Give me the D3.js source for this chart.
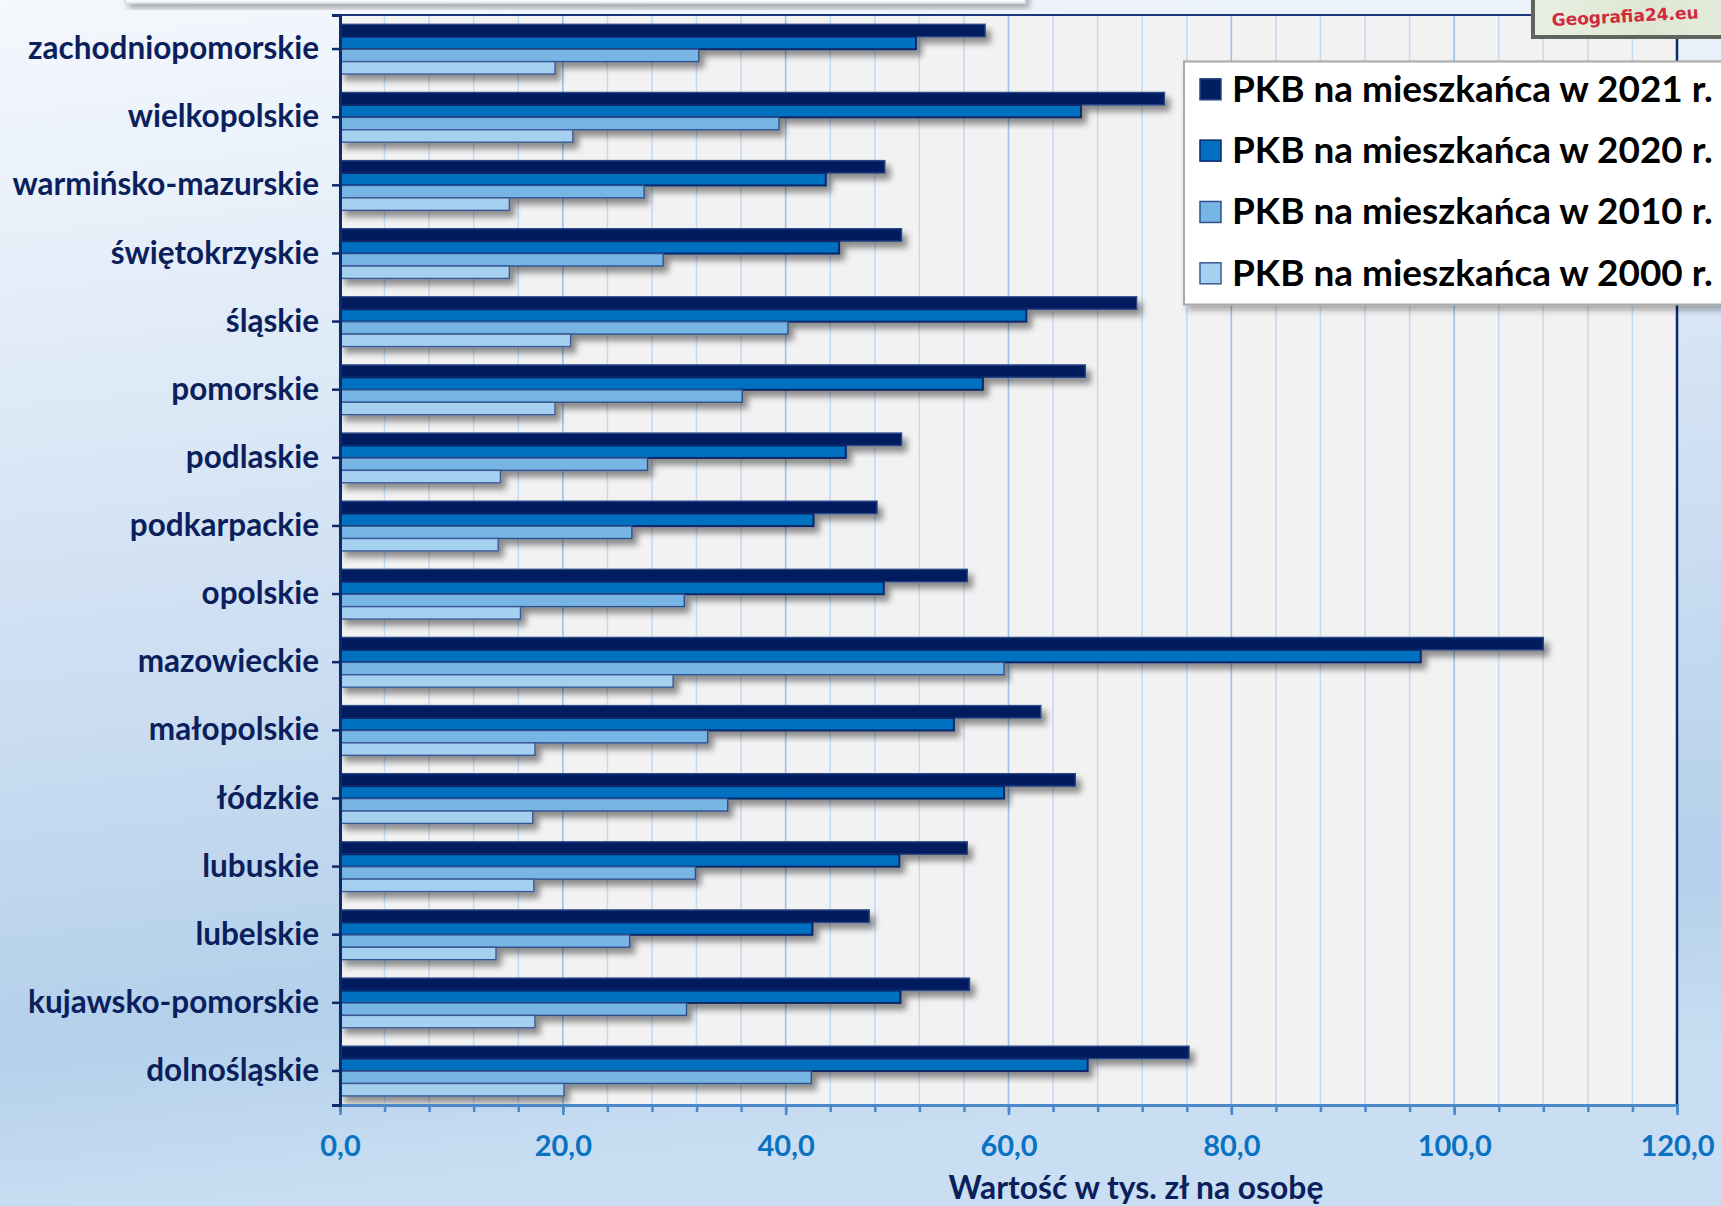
<!DOCTYPE html>
<html><head><meta charset="utf-8">
<script src="https://cdn.jsdelivr.net/npm/d3@7"></script>
<style>html,body{margin:0;padding:0;overflow:hidden;background:#fff}</style>
</head><body><svg id="c" width="1721" height="1206"></svg>
<script>
// ---- data ----
const categories = ["zachodniopomorskie","wielkopolskie","warmińsko-mazurskie","świętokrzyskie","śląskie","pomorskie","podlaskie","podkarpackie","opolskie","mazowieckie","małopolskie","łódzkie","lubuskie","lubelskie","kujawsko-pomorskie","dolnośląskie"];
const seriesNames = ["PKB na mieszkańca w 2021 r.","PKB na mieszkańca w 2020 r.","PKB na mieszkańca w 2010 r.","PKB na mieszkańca w 2000 r."];
const v2021 = [57.9, 74.0, 48.9, 50.4, 71.5, 66.9, 50.4, 48.2, 56.3, 108.0, 62.9, 66.0, 56.3, 47.5, 56.5, 76.2];
const v2020 = [51.7, 66.5, 43.6, 44.8, 61.6, 57.7, 45.4, 42.5, 48.8, 97.0, 55.1, 59.6, 50.2, 42.4, 50.3, 67.1];
const v2010 = [32.2, 39.4, 27.3, 29.0, 40.2, 36.1, 27.6, 26.2, 30.9, 59.6, 33.0, 34.8, 31.9, 26.0, 31.1, 42.3];
const v2000 = [19.3, 20.9, 15.2, 15.2, 20.7, 19.3, 14.4, 14.2, 16.2, 29.9, 17.5, 17.3, 17.4, 14.0, 17.5, 20.1];
const xTickValues = [0, 20, 40, 60, 80, 100, 120];
const axisTitle = "Wartość w tys. zł na osobę";
const logoText = "Geografia24.eu";

const seriesValues = [v2021, v2020, v2010, v2000];
const fills = ["#001f5f", "#0070c0", "#76b5e4", "#a5d0f0"];
const strokes = ["#2a4686", "#0b2767", "#2f4f8c", "#3b5a95"];

const svg = d3.select("#c");
const defs = svg.append("defs");
const FONT = "Lato, 'Open Sans', 'DejaVu Sans', sans-serif";

// background gradient
const bg = defs.append("linearGradient").attr("id","bg").attr("x1",0).attr("y1",0).attr("x2",0.15).attr("y2",1);
[[0,"#f5f8fd"],[0.25,"#e3edf8"],[0.6,"#c9dcf1"],[0.85,"#b4d0eb"],[1,"#c9def2"]].forEach(s=>bg.append("stop").attr("offset",s[0]).attr("stop-color",s[1]));
const sh = defs.append("filter").attr("id","sh").attr("x","-5%").attr("y","-50%").attr("width","120%").attr("height","250%");
sh.append("feDropShadow").attr("dx",5).attr("dy",6).attr("stdDeviation",3).attr("flood-color","#000").attr("flood-opacity",0.42);
const sh2 = defs.append("filter").attr("id","sh2").attr("x","-10%").attr("y","-10%").attr("width","130%").attr("height","130%");
sh2.append("feDropShadow").attr("dx",4).attr("dy",5).attr("stdDeviation",3).attr("flood-color","#000").attr("flood-opacity",0.3);
const lgr = defs.append("linearGradient").attr("id","logo").attr("x1",0).attr("y1",0).attr("x2",1).attr("y2",0);
[[0,"#e9efe2"],[0.5,"#dfe6d3"],[1,"#e8eee0"]].forEach(s=>lgr.append("stop").attr("offset",s[0]).attr("stop-color",s[1]));

svg.append("rect").attr("width",1721).attr("height",1206).attr("fill","url(#bg)");

// top-left box remnant
svg.append("rect").attr("x",125).attr("y",-30).attr("width",900).attr("height",33)
  .attr("fill","#f7f9fc").attr("stroke","#d5dce6").attr("stroke-width",1.5).attr("filter","url(#sh2)");

const M = {left:340, right:1677, top:15, bottom:1105};
const x = d3.scaleLinear().domain([0,120]).range([M.left, M.right]);
const y0 = d3.scaleBand().domain(categories).range([M.top, M.bottom]);
const bw = y0.bandwidth();
const y1 = d3.scaleBand().domain(d3.range(seriesNames.length)).range([bw*0.137, bw*0.867]);

// plot background
svg.append("rect").attr("x",M.left).attr("y",M.top).attr("width",M.right-M.left).attr("height",M.bottom-M.top).attr("fill","#f2f2f2");

// gridlines
svg.append("g").selectAll("line").data(d3.range(4,120,4)).join("line")
  .attr("x1",d=>x(d)).attr("x2",d=>x(d)).attr("y1",M.top).attr("y2",M.bottom)
  .attr("stroke",d=>d%20===0?"#9cc2e7":"#c5dbf1").attr("stroke-width",1.6);

// frame top & right
svg.append("line").attr("x1",M.left).attr("x2",M.right).attr("y1",M.top).attr("y2",M.top).attr("stroke","#1a3777").attr("stroke-width",2);
svg.append("line").attr("x1",M.right).attr("x2",M.right).attr("y1",M.top).attr("y2",M.bottom).attr("stroke","#0d2a6b").attr("stroke-width",2.5);

// bars
const gCat = svg.append("g").selectAll("g").data(categories).join("g")
  .attr("transform",d=>`translate(0,${y0(d)})`);
gCat.selectAll("rect").data((d,i)=>seriesValues.map((s,k)=>({k, v:s[i]}))).join("rect")
  .attr("x",x(0)).attr("y",d=>y1(d.k)).attr("width",d=>x(d.v)-x(0)).attr("height",y1.bandwidth())
  .attr("fill",d=>fills[d.k]).attr("stroke",d=>strokes[d.k]).attr("stroke-width",d=>d.k===1?2:1.4)
  .attr("filter","url(#sh)");

// bottom axis (minor + major)
const minor = svg.append("g").attr("transform",`translate(0,${M.bottom})`)
  .call(d3.axisBottom(x).tickValues(d3.range(0,121,4)).tickSize(7).tickFormat(""));
minor.select(".domain").attr("stroke","#4a88c9").attr("stroke-width",3);
minor.selectAll(".tick line").attr("stroke","#4a88c9").attr("stroke-width",2.5);
const major = svg.append("g").attr("transform",`translate(0,${M.bottom})`)
  .call(d3.axisBottom(x).tickValues(xTickValues).tickSize(10).tickPadding(20)
  .tickFormat(d=>d3.format(".1f")(d).replace(".",",")));
major.select(".domain").remove();
major.selectAll(".tick line").attr("stroke","#4a88c9").attr("stroke-width",2.5);
major.selectAll(".tick text").attr("fill","#0a72c2").attr("font-family",FONT).attr("font-weight",700).attr("font-size",29);

// left axis
const yAx = svg.append("g").attr("transform",`translate(${M.left},0)`)
  .call(d3.axisLeft(y0).tickSize(8).tickPadding(13));
yAx.select(".domain").attr("stroke","#0d2a6b").attr("stroke-width",3);
yAx.selectAll(".tick line").attr("stroke","#0d2a6b").attr("stroke-width",2.5);
const labs = yAx.selectAll(".tick text").attr("fill","#0b1f5c").attr("font-family",FONT).attr("font-weight",700).attr("font-size",33).attr("dy","0.32em");
// fit label size so the longest label width matches
{
  const n = labs.filter(d=>d==="zachodniopomorskie").node();
  const w = n.getComputedTextLength();
  const fs = Math.max(26, Math.min(40, 33*291/w));
  labs.attr("font-size",fs);
}

// axis title
const at = svg.append("text").attr("x",1136).attr("y",1199).attr("text-anchor","middle")
  .attr("fill","#0b1f5c").attr("font-family",FONT).attr("font-weight",700).attr("font-size",26).text(axisTitle);
{
  const w = at.node().getComputedTextLength();
  at.attr("font-size",Math.max(20,Math.min(34,26*375/w)));
}

// legend
const lg = svg.append("g");
lg.append("rect").attr("x",1184).attr("y",61.5).attr("width",620).attr("height",243)
  .attr("fill","#ffffff").attr("stroke","#a8a8a8").attr("stroke-width",2).attr("filter","url(#sh2)");
const rowY = d3.scaleLinear().domain([0,3]).range([89.8,273.8]);
const items = lg.selectAll("g.it").data(seriesNames).join("g").attr("class","it");
items.append("rect").attr("x",1200).attr("y",(d,i)=>rowY(i)-11).attr("width",21).attr("height",21)
  .attr("fill",(d,i)=>fills[i]).attr("stroke",(d,i)=>strokes[i]).attr("stroke-width",1.5);
const lt = items.append("text").attr("x",1232).attr("y",(d,i)=>rowY(i)+12)
  .attr("fill","#000").attr("font-family",FONT).attr("font-weight",700).attr("font-size",34).text(d=>d);
{
  const w = lt.node().getComputedTextLength();
  lt.attr("font-size",Math.max(26,Math.min(42,34*481/w)));
}

// logo (top-right, cut by page edge)
const logo = svg.append("g");
logo.append("rect").attr("x",1533).attr("y",-8).attr("width",230).attr("height",45)
  .attr("fill","url(#logo)").attr("stroke","#5f645d").attr("stroke-width",4);
const lgt = logo.append("text").attr("x",1552).attr("y",26).attr("transform","rotate(-3,1552,26)")
  .attr("fill","#d02a3c").attr("font-family","'DejaVu Sans', sans-serif").attr("font-weight",700)
  .attr("font-size",17).text(logoText);
{
  const w = lgt.node().getComputedTextLength();
  if (1552 + w > 1712) lgt.attr("font-size", 17*(1712-1552)/w);
}
</script></body></html>
